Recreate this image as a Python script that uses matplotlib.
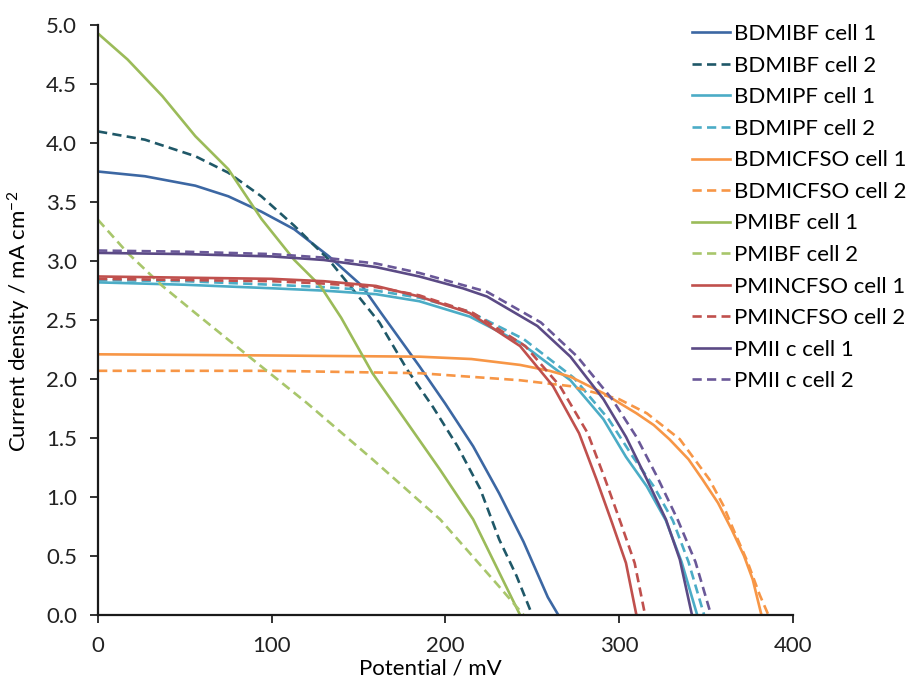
import matplotlib
matplotlib.use('Agg')
from matplotlib import pyplot as plt

plt.rcParams['font.family'] = ['Lato', 'DejaVu Sans']
plt.rcParams['mathtext.fontset'] = 'custom'
plt.rcParams['mathtext.rm'] = 'Lato'
plt.rcParams['mathtext.it'] = 'Lato'

# J-V curves (potential in mV, current density in mA cm-2)
bdmibf1_v = [0, 27, 56, 75, 94, 113, 133, 152, 163, 185, 200, 216, 231, 245, 259, 265]
bdmibf1_j = [3.76, 3.72, 3.64, 3.55, 3.42, 3.27, 3.04, 2.79, 2.56, 2.11, 1.79, 1.43, 1.03, 0.62, 0.15, 0.0]

bdmibf2_v = [0, 27, 56, 75, 94, 113, 133, 150, 162, 178, 193, 207, 220, 231, 241, 250]
bdmibf2_j = [4.10, 4.03, 3.89, 3.75, 3.55, 3.30, 3.01, 2.70, 2.48, 2.08, 1.76, 1.43, 1.07, 0.64, 0.33, 0.0]

bdmipf1_v = [0, 50, 100, 130, 160, 185, 214, 243, 272, 291, 304, 316, 327, 336, 345]
bdmipf1_j = [2.82, 2.80, 2.77, 2.75, 2.72, 2.66, 2.53, 2.31, 1.99, 1.66, 1.34, 1.09, 0.80, 0.45, 0.0]

bdmipf2_v = [0, 50, 100, 130, 160, 185, 214, 245, 274, 294, 308, 320, 331, 340, 349]
bdmipf2_j = [2.84, 2.83, 2.80, 2.78, 2.75, 2.69, 2.57, 2.34, 2.01, 1.66, 1.34, 1.09, 0.80, 0.45, 0.0]

bdmicfso1_v = [0, 100, 185, 215, 243, 260, 272, 291, 310, 320, 329, 340, 348, 357, 365, 372, 377, 382]
bdmicfso1_j = [2.21, 2.20, 2.19, 2.17, 2.12, 2.07, 2.02, 1.88, 1.71, 1.61, 1.49, 1.32, 1.15, 0.95, 0.72, 0.50, 0.30, 0.0]

bdmicfso2_v = [0, 100, 185, 243, 272, 300, 316, 335, 352, 360, 366, 374, 381, 386]
bdmicfso2_j = [2.07, 2.07, 2.05, 1.99, 1.94, 1.83, 1.71, 1.49, 1.15, 0.93, 0.72, 0.45, 0.17, 0.0]

pmibf1_v = [0, 17, 37, 56, 75, 94, 113, 128, 140, 158, 178, 197, 216, 231, 243]
pmibf1_j = [4.93, 4.71, 4.40, 4.06, 3.78, 3.36, 3.01, 2.79, 2.52, 2.05, 1.63, 1.23, 0.81, 0.36, 0.0]

pmibf2_v = [0, 17, 37, 56, 87, 120, 158, 197, 231, 245]
pmibf2_j = [3.35, 3.07, 2.79, 2.56, 2.19, 1.80, 1.32, 0.81, 0.24, 0.0]

pmincfso1_v = [0, 50, 100, 130, 160, 185, 214, 243, 262, 277, 287, 296, 304, 310]
pmincfso1_j = [2.87, 2.86, 2.85, 2.83, 2.79, 2.70, 2.56, 2.28, 1.94, 1.54, 1.15, 0.78, 0.44, 0.0]

pmincfso2_v = [0, 50, 100, 130, 160, 185, 216, 246, 266, 282, 292, 301, 309, 315]
pmincfso2_j = [2.85, 2.84, 2.83, 2.81, 2.78, 2.71, 2.56, 2.28, 1.94, 1.54, 1.15, 0.78, 0.44, 0.0]

pmii1_v = [0, 50, 100, 130, 160, 185, 210, 224, 253, 272, 291, 304, 316, 327, 335, 342]
pmii1_j = [3.07, 3.06, 3.04, 3.01, 2.95, 2.87, 2.77, 2.70, 2.45, 2.19, 1.83, 1.51, 1.15, 0.81, 0.47, 0.0]

pmii2_v = [0, 50, 100, 130, 160, 185, 224, 255, 276, 296, 310, 322, 334, 344, 353]
pmii2_j = [3.09, 3.08, 3.06, 3.03, 2.98, 2.90, 2.74, 2.48, 2.19, 1.83, 1.51, 1.17, 0.80, 0.45, 0.0]

series = [
    ('BDMIBF cell 1', bdmibf1_v, bdmibf1_j, '#3C67A3', '-'),
    ('BDMIBF cell 2', bdmibf2_v, bdmibf2_j, '#1F5868', '--'),
    ('BDMIPF cell 1', bdmipf1_v, bdmipf1_j, '#4BACC6', '-'),
    ('BDMIPF cell 2', bdmipf2_v, bdmipf2_j, '#4BACC6', '--'),
    ('BDMICFSO cell 1', bdmicfso1_v, bdmicfso1_j, '#F79646', '-'),
    ('BDMICFSO cell 2', bdmicfso2_v, bdmicfso2_j, '#F79646', '--'),
    ('PMIBF cell 1', pmibf1_v, pmibf1_j, '#9BBB59', '-'),
    ('PMIBF cell 2', pmibf2_v, pmibf2_j, '#A8C66B', '--'),
    ('PMINCFSO cell 1', pmincfso1_v, pmincfso1_j, '#C0504D', '-'),
    ('PMINCFSO cell 2', pmincfso2_v, pmincfso2_j, '#C0504D', '--'),
    ('PMII c cell 1', pmii1_v, pmii1_j, '#5B4A85', '-'),
    ('PMII c cell 2', pmii2_v, pmii2_j, '#6A5898', '--'),
]

fig = plt.figure(figsize=(9.08, 6.84), dpi=100)
ax = fig.add_axes([0.108, 0.101, 0.765, 0.862])

for name, v, j, c, ls in series:
    if ls == '--':
        ax.plot(v, j, color=c, lw=1.9, dashes=(3.5, 2.0), label=name)
    else:
        ax.plot(v, j, color=c, lw=1.9, label=name)

ax.set_xlim(0, 400)
ax.set_ylim(0, 5.0)
ax.set_xticks([0, 100, 200, 300, 400])
ax.set_yticks([0.0, 0.5, 1.0, 1.5, 2.0, 2.5, 3.0, 3.5, 4.0, 4.5, 5.0])
ax.set_yticklabels(['%.1f' % t for t in ax.get_yticks()])
ax.tick_params(direction='out', length=6, width=1.3, labelsize=16, colors='#222222')
ax.tick_params(axis='x', pad=9)
ax.tick_params(axis='y', pad=9)
for s in ['top', 'right']:
    ax.spines[s].set_visible(False)
for s in ['left', 'bottom']:
    ax.spines[s].set_linewidth(1.6)
    ax.spines[s].set_color('#1a1a1a')

ax.set_xlabel('Potential / mV', fontsize=16)
ax.set_ylabel('Current density / mA cm$^{-2}$', fontsize=16)
ax.xaxis.set_label_coords(0.479, -0.074)
ax.yaxis.set_label_coords(-0.093, 0.498)

ax.legend(loc='upper left', bbox_to_anchor=(0.855, 1.002), frameon=False, fontsize=16,
          handlelength=1.7, handletextpad=0.2, labelspacing=0.52,
          borderaxespad=0, borderpad=0)

fig.savefig('out.png', dpi=100)
